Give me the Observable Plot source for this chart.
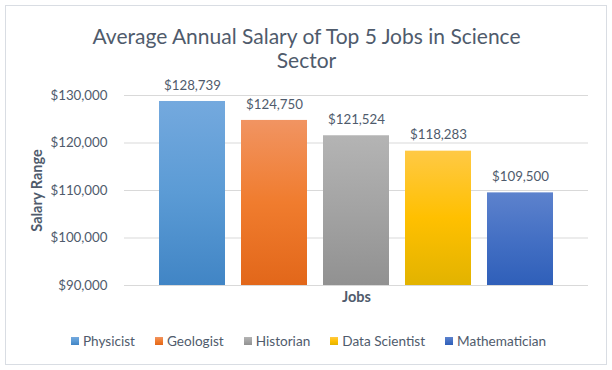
<!DOCTYPE html>
<html>
<head>
<meta charset="utf-8">
<script src="https://cdn.jsdelivr.net/npm/d3@7"></script>
<script src="https://cdn.jsdelivr.net/npm/@observablehq/plot@0.6"></script>
<style>
  html, body { margin: 0; padding: 0; background: #ffffff; }
  #wrap { position: relative; width: 612px; height: 370px; overflow: hidden; font-family: Lato, "Open Sans", sans-serif; color: #4f5b6c; }
  #border { position: absolute; left: 5px; top: 5px; width: 600px; height: 358px; border: 1px solid #d9dde3; box-sizing: content-box; }
  #title { position: absolute; left: 0; top: 24px; width: 613px; text-align: center; font-size: 21px; line-height: 24px; color: #4f5b6c; }
  #chart { position: absolute; left: 0; top: 0; }
  #legend { position: absolute; left: 0; top: 332px; width: 617px; display: flex; justify-content: center; font-size: 13.6px; line-height: 18px; }
  .item { display: flex; align-items: center; margin: 0 10px; }
  .sw { width: 8px; height: 8px; margin-right: 4px; }
  #defs { position: absolute; width: 0; height: 0; }
</style>
</head>
<body>
<div id="wrap">
  <div id="border"></div>
  <div id="title">Average Annual Salary of Top 5 Jobs in Science<br>Sector</div>
  <div id="chart"></div>
  <div id="legend"></div>
</div>
<script>
const jobs = ["Physicist", "Geologist", "Historian", "Data Scientist", "Mathematician"];
const salaries = [128739, 124750, 121524, 118283, 109500];
const yTicks = [90000, 100000, 110000, 120000, 130000];
const gradTop = ["#74a9de", "#f19462", "#b4b4b4", "#ffc945", "#5d82cd"];
const gradMid = ["#5b9bd5", "#f07c2e", "#a3a3a3", "#ffc000", "#4470c4"];
const gradBottom = ["#4185c5", "#e2671a", "#919191", "#e2b300", "#2f5fb9"];

const data = jobs.map((job, i) => ({job, salary: salaries[i]}));
const money = d => "$" + d3.format(",")(d);

// gradient definitions
const defs = d3.select("#wrap").append("svg").attr("id", "defs").append("defs");
jobs.forEach((j, i) => {
  const g = defs.append("linearGradient").attr("id", "grad" + i)
    .attr("x1", 0).attr("y1", 0).attr("x2", 0).attr("y2", 1);
  g.append("stop").attr("offset", "0%").attr("stop-color", gradTop[i]);
  g.append("stop").attr("offset", "50%").attr("stop-color", gradMid[i]);
  g.append("stop").attr("offset", "100%").attr("stop-color", gradBottom[i]);
});

const chart = Plot.plot({
  width: 612,
  height: 370,
  marginLeft: 124,
  marginRight: 24,
  marginTop: 95,
  marginBottom: 85,
  style: {fontFamily: "Lato, 'Open Sans', sans-serif", fontSize: "13.3px", color: "#4f5b6c", background: "transparent", overflow: "visible"},
  x: {domain: jobs, paddingInner: 0.194, paddingOuter: 0.409, axis: null},
  y: {domain: [yTicks[0], yTicks[yTicks.length - 1]], axis: null},
  color: {domain: jobs, range: jobs.map((_, i) => `url(#grad${i})`)},
  marks: [
    Plot.ruleY(yTicks, {stroke: "#d9d9d9", strokeWidth: 1}),
    Plot.barY(data, {x: "job", y1: () => yTicks[0], y2: "salary", fill: "job"}),
    Plot.text(data, {x: "job", y: "salary", text: d => money(d.salary), dy: -16, lineAnchor: "middle", fill: "#4f5b6c"}),
    Plot.axisY(yTicks, {tickFormat: money, tickSize: 0, tickPadding: 17, label: null, fill: "#4f5b6c"}),
    Plot.text(["Salary Range"], {frameAnchor: "left", dx: -87, rotate: -90, textAnchor: "middle", fontWeight: "bold", fontSize: 14.5, fill: "#4f5b6c", lineAnchor: "middle"}),
    Plot.text(["Jobs"], {frameAnchor: "bottom", dy: 12, fontWeight: "bold", fontSize: 14.5, fill: "#4f5b6c", lineAnchor: "middle"})
  ]
});
document.getElementById("chart").appendChild(chart);

// legend
const legend = d3.select("#legend");
jobs.forEach((j, i) => {
  const it = legend.append("div").attr("class", "item");
  it.append("div").attr("class", "sw")
    .style("background", `linear-gradient(${gradTop[i]}, ${gradMid[i]}, ${gradBottom[i]})`);
  it.append("span").text(j);
});
</script>
</body>
</html>
